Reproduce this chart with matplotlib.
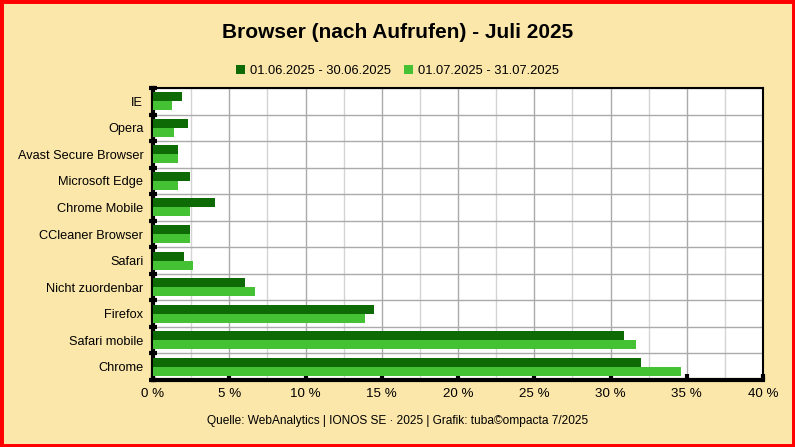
import matplotlib.pyplot as plt
import numpy as np
from matplotlib.patches import Rectangle

plt.rcParams['font.family'] = ['Liberation Sans', 'DejaVu Sans']

# Kategorien von unten nach oben
browsers = ['Chrome', 'Safari mobile', 'Firefox', 'Nicht zuordenbar', 'Safari',
            'CCleaner Browser', 'Chrome Mobile', 'Microsoft Edge',
            'Avast Secure Browser', 'Opera', 'IE']
juni = [32.0, 30.9, 14.5, 6.0, 2.05, 2.4, 4.05, 2.45, 1.65, 2.3, 1.9]
juli = [34.65, 31.65, 13.9, 6.7, 2.6, 2.45, 2.45, 1.65, 1.65, 1.35, 1.25]
label_juni = '01.06.2025 - 30.06.2025'
label_juli = '01.07.2025 - 31.07.2025'

bg = '#fce7aa'
dark = '#0e6a04'
light = '#44c234'

fig = plt.figure(figsize=(7.95, 4.47), dpi=100, facecolor=bg)
fig.patches.append(Rectangle((0, 0), 1, 1, transform=fig.transFigure,
                             fill=False, edgecolor='#ff0000', linewidth=5))

ax = fig.add_axes([0.1925, 0.150, 0.7673, 0.653])
y = np.arange(len(browsers))
h = 0.34
ax.barh(y + h / 2, juni, height=h, color=dark, label=label_juni, zorder=3)
ax.barh(y - h / 2, juli, height=h, color=light, label=label_juli, zorder=3)

ax.set_xlim(0, 40)
ax.set_ylim(-0.5, len(browsers) - 0.5)
ax.set_xticks(np.arange(0, 41, 5))
ax.set_xticklabels([f'{v} %' for v in range(0, 41, 5)], fontsize=9.6)
ax.set_xticks(np.arange(2.5, 40, 5), minor=True)
ax.set_yticks(y)
ax.set_yticklabels(browsers, fontsize=9.2)
ax.set_yticks(np.arange(-0.5, len(browsers), 1), minor=True)
ax.tick_params(axis='y', which='major', length=0, pad=7)
ax.tick_params(axis='y', which='minor', length=6, width=3, direction='inout')
ax.tick_params(axis='x', which='major', length=4, width=3, direction='in', pad=6)
ax.tick_params(axis='x', which='minor', length=0)

ax.grid(axis='x', which='major', color='#aaaaaa', linewidth=1, zorder=0)
ax.grid(axis='x', which='minor', color='#d4d4d4', linewidth=1, zorder=0)
ax.grid(axis='y', which='minor', color='#aaaaaa', linewidth=1, zorder=0)

ax.spines['left'].set_linewidth(3)
ax.spines['bottom'].set_linewidth(3)
ax.spines['top'].set_linewidth(1.5)
ax.spines['right'].set_linewidth(1.5)

fig.text(0.5, 0.928, 'Browser (nach Aufrufen) - Juli 2025', ha='center',
         va='center', fontsize=15, fontweight='bold')
fig.legend(loc='center', bbox_to_anchor=(0.5, 0.841), ncol=2, frameon=False,
           fontsize=9.3, handlelength=0.7, handleheight=0.7, handletextpad=0.4,
           columnspacing=1.0)
fig.text(0.5, 0.058, 'Quelle: WebAnalytics | IONOS SE \u00b7 2025 | Grafik: tuba\u00a9ompacta 7/2025',
         ha='center', va='center', fontsize=8.6)

fig.savefig('out.png', dpi=100, facecolor=bg)
